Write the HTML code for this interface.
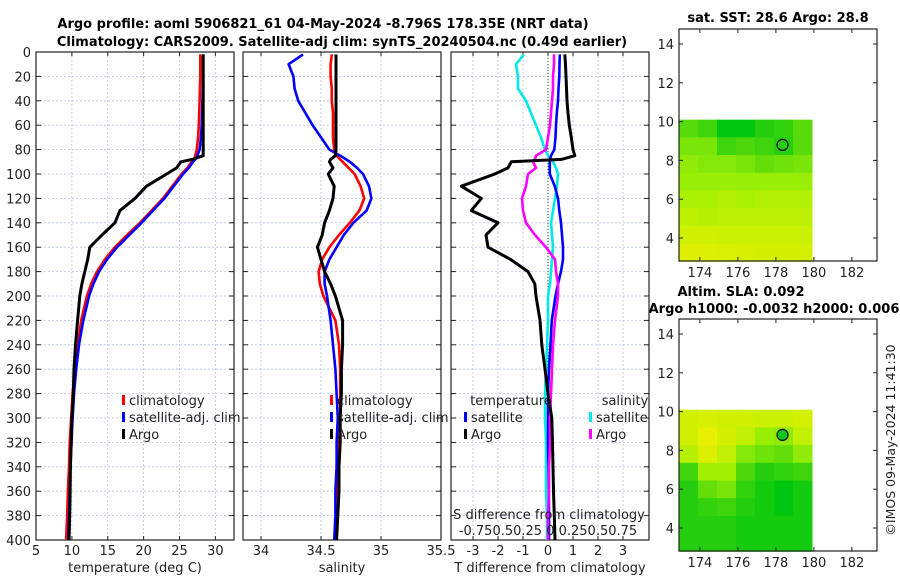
<!DOCTYPE html>
<html><head><meta charset="utf-8"><style>
body{margin:0;background:#fff;}
svg{display:block;font-family:"DejaVu Sans","Liberation Sans",sans-serif;}
</style></head><body>
<svg id="fig" width="900" height="580" viewBox="0 0 900 580">
<text x="323" y="28" text-anchor="middle" font-size="13" font-weight="bold">Argo profile: aoml 5906821_61 04-May-2024 -8.796S 178.35E (NRT data)</text>
<text x="342" y="46" text-anchor="middle" font-size="13" font-weight="bold">Climatology: CARS2009. Satellite-adj clim: synTS_20240504.nc (0.49d earlier)</text>
<text x="778" y="22" text-anchor="middle" font-size="13" font-weight="bold">sat. SST: 28.6 Argo: 28.8</text>
<text x="741" y="296" text-anchor="middle" font-size="13" font-weight="bold">Altim. SLA: 0.092</text>
<text x="774" y="313" text-anchor="middle" font-size="13" font-weight="bold">Argo h1000: -0.0032 h2000: 0.006</text>
<text transform="translate(895,440) rotate(-90)" text-anchor="middle" font-size="12.5" fill="#222">©IMOS 09-May-2024 11:41:30</text>
<g id="layer"></g>
</svg>
<script>
// depths (m)
const depths=[2,10,20,30,40,50,60,70,80,85,88,90,95,100,110,120,130,140,150,160,170,180,190,200,220,240,260,280,300,320,340,360,380,400];
// temperature (deg C)
const tClim=[27.9,27.9,27.9,27.85,27.8,27.75,27.7,27.6,27.4,27.2,27.0,26.7,26.1,25.3,24.0,22.7,21.1,19.5,17.7,16.0,14.6,13.5,12.7,12.1,11.3,10.8,10.4,10.1,9.9,9.7,9.6,9.45,9.35,9.2];
const tSat=[28.3,28.3,28.3,28.25,28.2,28.15,28.1,28.0,27.8,27.5,27.2,26.9,26.3,25.5,24.2,22.9,21.3,19.7,18.0,16.3,14.9,13.8,13.0,12.4,11.6,11.0,10.6,10.3,10.1,9.95,9.8,9.7,9.6,9.5];
const tArgo=[28.3,28.3,28.3,28.3,28.3,28.3,28.3,28.3,28.3,28.3,26.8,25.2,24.6,23.2,20.4,18.8,16.7,16.0,14.2,12.5,12.2,11.8,11.4,11.1,10.8,10.5,10.3,10.2,10.0,9.9,9.8,9.75,9.7,9.6];
// salinity
const sClim=[34.59,34.58,34.58,34.59,34.59,34.6,34.6,34.6,34.61,34.63,34.66,34.68,34.73,34.78,34.83,34.86,34.82,34.74,34.65,34.57,34.51,34.48,34.49,34.52,34.62,34.65,34.66,34.66,34.66,34.65,34.64,34.63,34.63,34.62];
const sSat=[34.35,34.23,34.27,34.28,34.31,34.37,34.43,34.5,34.57,34.66,34.71,34.74,34.8,34.85,34.9,34.92,34.88,34.77,34.69,34.63,34.57,34.53,34.53,34.55,34.58,34.6,34.62,34.63,34.64,34.63,34.63,34.62,34.62,34.61];
const sArgo=[34.625,34.625,34.625,34.625,34.625,34.625,34.625,34.625,34.625,34.62,34.58,34.57,34.6,34.56,34.61,34.6,34.57,34.53,34.51,34.47,34.5,34.53,34.58,34.62,34.68,34.68,34.67,34.67,34.66,34.66,34.65,34.65,34.64,34.63];
// differences from climatology
const dTSat=[0.47,0.46,0.45,0.42,0.4,0.35,0.32,0.3,0.25,0.12,0.08,0.07,0.07,0.07,0.27,0.4,0.45,0.52,0.56,0.6,0.6,0.52,0.4,0.3,0.15,0.1,0.04,0.0,0.0,0.0,0.02,0.03,0.04,0.04];
const dTArgo=[0.67,0.7,0.72,0.74,0.76,0.8,0.85,0.93,1.0,1.07,0.53,-1.47,-1.6,-2.13,-3.47,-2.67,-3.07,-2.0,-2.48,-2.4,-1.5,-0.8,-0.53,-0.48,-0.32,-0.25,-0.12,0.0,0.15,0.18,0.2,0.22,0.25,0.28];
const dSSat=[-0.24,-0.32,-0.3,-0.3,-0.22,-0.17,-0.12,-0.07,-0.03,0.0,0.03,0.05,0.08,0.1,0.09,0.07,0.05,0.03,0.04,0.05,0.04,0.03,0.02,0.0,0.0,-0.01,-0.02,-0.03,-0.03,-0.02,-0.02,-0.02,-0.01,-0.01];
const dSArgo=[0.06,0.06,0.05,0.05,0.04,0.03,0.02,0.0,-0.02,-0.12,-0.13,-0.15,-0.12,-0.2,-0.22,-0.26,-0.25,-0.22,-0.13,-0.02,0.07,0.08,0.1,0.1,0.07,0.05,0.04,0.03,0.02,0.02,0.01,0.01,0.0,0.0];
// map values (0 = green, 1 = yellow), rows from lat 10.1 down to 2.8, cols lon 173..180
const sstGrid=[[0.3,0.2,0,0,0.1,0.15,0.3],[0.45,0.45,0.2,0.25,0.2,0.1,0.3],[0.55,0.5,0.5,0.45,0.35,0.4,0.45],[0.6,0.6,0.6,0.6,0.6,0.6,0.6],[0.68,0.68,0.72,0.68,0.72,0.72,0.72],[0.78,0.75,0.78,0.78,0.78,0.78,0.78],[0.88,0.88,0.85,0.85,0.85,0.85,0.85],[0.95,0.95,0.93,0.92,0.9,0.9,0.9]];
const slaGrid=[[0.88,0.92,0.88,0.88,0.85,0.85,0.9],[0.88,1.0,0.9,0.8,0.6,0.55,0.8],[0.75,0.95,0.8,0.5,0.4,0.35,0.55],[0.2,0.65,0.65,0.25,0.1,0.15,0.2],[0.1,0.35,0.45,0.15,0.05,0.0,0.05],[0.1,0.15,0.2,0.1,0.05,0.0,0.05],[0.1,0.1,0.1,0.05,0.05,0.05,0.05],[0.1,0.1,0.1,0.05,0.05,0.05,0.05]];
const argoLon=178.35, argoLat=8.8;
const depthTicks=[0,20,40,60,80,100,120,140,160,180,200,220,240,260,280,300,320,340,360,380,400];

const NS="http://www.w3.org/2000/svg";
const L=document.getElementById('layer');
function mk(tag,attrs,parent){const e=document.createElementNS(NS,tag);for(const k in attrs)e.setAttribute(k,attrs[k]);(parent||L).appendChild(e);return e;}
function txt(x,y,s,size,anchor,parent){const e=mk('text',{x:x,y:y,'font-size':size||13,'text-anchor':anchor||'middle',fill:'#222'},parent);e.textContent=s;return e;}
const Y0=52,Y1=540;
const yD=d=>Y0+(d/400)*(Y1-Y0);

function panel(name,x0,x1,xmin,xmax,xticks,xlabel){
  const g=mk('g',{});
  
  
  const xs=v=>x0+(v-xmin)/(xmax-xmin)*(x1-x0);
  xticks.forEach(t=>{const x=xs(t);mk('line',{x1:x,x2:x,y1:Y0,y2:Y1,stroke:'#b8c4e8','stroke-width':0.8,'stroke-dasharray':'2,2'},g);
    mk('line',{x1:x,x2:x,y1:Y1,y2:Y1-4,stroke:'#222'},g);mk('line',{x1:x,x2:x,y1:Y0,y2:Y0+4,stroke:'#222'},g);
    const tl=txt(x,Y1+15,String(t),13,'middle',g);});
  depthTicks.forEach(d=>{const y=yD(d);mk('line',{x1:x0,x2:x1,y1:y,y2:y,stroke:'#b8c4e8','stroke-width':0.8,'stroke-dasharray':'2,2'},g);
    mk('line',{x1:x0,x2:x0+5,y1:y,y2:y,stroke:'#222'},g);mk('line',{x1:x1-5,x2:x1,y1:y,y2:y,stroke:'#222'},g);});
  mk('rect',{x:x0,y:Y0,width:x1-x0,height:Y1-Y0,fill:'none',stroke:'#222','stroke-width':1.2},g);
  const xl=txt((x0+x1)/2,Y1+32,xlabel,13,'middle',g);
  
  return {g,xs};
}
function line(p,vals,color,w,name,xs){
  const pts=vals.map((v,i)=>(xs||p.xs)(v).toFixed(1)+','+yD(depths[i]).toFixed(1)).join(' ');
  const e=mk('polyline',{points:pts,fill:'none',stroke:color,'stroke-width':w,'stroke-linejoin':'round'},p.g);
  
  
}
function legendEntry(g,x,y,color,label,name){
  const e=mk('g',{},g);
  
  
  mk('rect',{x:x,y:y-10,width:3,height:10,fill:color},e);
  txt(x+7,y,label,13,'start',e);
}
depthTicks.forEach(d=>{const t=txt(31,yD(d)+5,String(d),13,'end');
  });

const p1=panel('temperature-panel',36,234,5,32.6,[5,10,15,20,25,30],'temperature (deg C)');
line(p1,tClim,'#f00',2.6,'climatology-temperature-line');
line(p1,tSat,'#00f',2.6,'satellite-temperature-line');
line(p1,tArgo,'#000',3,'argo-temperature-line');
legendEntry(p1.g,122,405,'#f00','climatology','legend-climatology');
legendEntry(p1.g,122,422,'#00f','satellite-adj. clim','legend-satellite');
legendEntry(p1.g,122,439,'#000','Argo','legend-argo');

const p2=panel('salinity-panel',243,441,33.85,35.5,[34,34.5,35,35.5],'salinity');
line(p2,sClim,'#f00',2.6,'climatology-salinity-line');
line(p2,sSat,'#00f',2.6,'satellite-salinity-line');
line(p2,sArgo,'#000',3,'argo-salinity-line');
legendEntry(p2.g,330,405,'#f00','climatology','legend-climatology');
legendEntry(p2.g,330,422,'#00f','satellite-adj. clim','legend-satellite');
legendEntry(p2.g,330,439,'#000','Argo','legend-argo');

const p3=panel('difference-panel',451,649,-3.88,4.04,[-3,-2,-1,0,1,2,3],'T difference from climatology');
const xS=v=>548+v*100;
mk('line',{x1:548,x2:548,y1:Y0,y2:Y1,stroke:'#2a5a2a','stroke-width':1,'stroke-dasharray':'1,2'},p3.g);
line(p3,dSSat,'#00e8e8',2.6,'satellite-salinity-diff-line',xS);
line(p3,dTSat,'#00f',2.6,'satellite-temperature-diff-line');
line(p3,dSArgo,'#f0f',2.6,'argo-salinity-diff-line',xS);
line(p3,dTArgo,'#000',3,'argo-temperature-diff-line');
txt(511,405,'temperature',13,'middle',p3.g);
txt(625,405,'salinity',13,'middle',p3.g);
legendEntry(p3.g,464,422,'#00f','satellite','legend-t-satellite');
legendEntry(p3.g,464,439,'#000','Argo','legend-t-argo');
legendEntry(p3.g,589,422,'#00e8e8','satellite','legend-s-satellite');
legendEntry(p3.g,589,439,'#f0f','Argo','legend-s-argo');
const sl=txt(549,519,'S difference from climatology',13,'middle',p3.g);

const st=txt(548,535,'-0.750.50.25 0 0.250.50.75',13,'middle',p3.g);


function colorOf(v){const r=Math.round(230*Math.pow(v,0.8)),g=Math.round(200+40*Math.min(1,v*1.6)),b=Math.round(15*(1-v));return `rgb(${r},${g},${b})`;}
function map(name,top,grid,filled){
  const g=mk('g',{});
  
  
  const x0=679,x1=877,bot=top+232;
  const lx=lon=>x0+(lon-172.9)*19;
  const ly=lat=>top+15+(14-lat)*19.4;
  const rows=grid.length,cols=grid[0].length;
  const latTop=10.1,latBot=2.8,lonL=172.9,lonR=179.9;
  for(let r=0;r<rows;r++)for(let c=0;c<cols;c++){
    const la1=latTop-(latTop-latBot)*r/rows,la2=latTop-(latTop-latBot)*(r+1)/rows;
    const lo1=lonL+(lonR-lonL)*c/cols,lo2=lonL+(lonR-lonL)*(c+1)/cols;
    const cell=mk('rect',{x:lx(lo1),y:ly(la1),width:lx(lo2)-lx(lo1)+0.5,height:ly(la2)-ly(la1)+0.5,fill:colorOf(grid[r][c])},g);
    
    
  }
  mk('rect',{x:x0,y:top,width:x1-x0,height:bot-top,fill:'none',stroke:'#222','stroke-width':1.2},g);
  [4,6,8,10,12,14].forEach(t=>{const y=ly(t);txt(x0-5,y+5,String(t),13,'end',g);
    mk('line',{x1:x0,x2:x0+4,y1:y,y2:y,stroke:'#222'},g);mk('line',{x1:x1-4,x2:x1,y1:y,y2:y,stroke:'#222'},g);});
  [174,176,178,180,182].forEach(t=>{const x=lx(t);txt(x,bot+16,String(t),13,'middle',g);
    mk('line',{x1:x,x2:x,y1:bot,y2:bot-4,stroke:'#222'},g);mk('line',{x1:x,x2:x,y1:top,y2:top+4,stroke:'#222'},g);});
  const m=mk('circle',{cx:lx(argoLon),cy:ly(argoLat),r:5.5,fill:filled?'#10c820':'none',stroke:'#000','stroke-width':1.2},g);
  
  
}
map('sst-map',29,sstGrid,false);
map('sla-map',319,slaGrid,true);
</script>
</body></html>
